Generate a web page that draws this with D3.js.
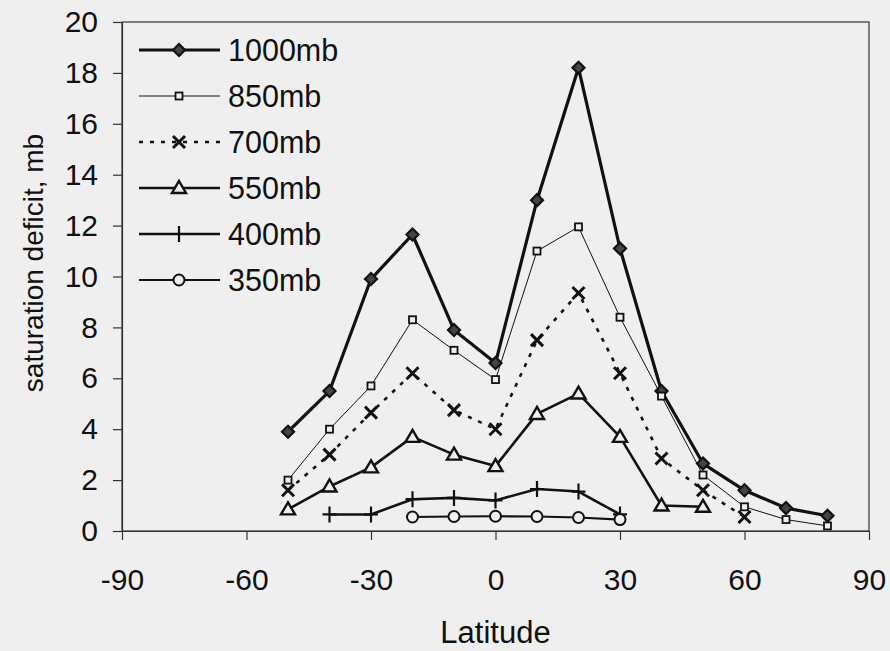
<!DOCTYPE html>
<html><head><meta charset="utf-8">
<script src="https://cdn.jsdelivr.net/npm/d3@7"></script>
<style>
html,body{margin:0;padding:0;background:#efefef;}
svg{display:block;font-family:"Liberation Sans",Arial,sans-serif;}
</style></head>
<body>
<svg id="c" width="890" height="651"></svg>
<script>
const lat = [-50,-40,-30,-20,-10,0,10,20,30,40,50,60,70,80];
const s1000 = [3.9,5.5,9.9,11.65,7.9,6.6,13.0,18.2,11.1,5.5,2.65,1.6,0.9,0.6];
const s850  = [2.0,4.0,5.7,8.3,7.1,5.95,11.0,11.95,8.4,5.3,2.2,0.95,0.45,0.2];
const s700  = [1.6,3.0,4.65,6.2,4.75,4.0,7.5,9.35,6.2,2.85,1.6,0.55,null,null];
const s550  = [0.85,1.75,2.5,3.7,3.0,2.55,4.6,5.4,3.7,1.0,0.95,null,null,null];
const s400  = [null,0.65,0.65,1.25,1.3,1.2,1.65,1.55,0.65,null,null,null,null,null];
const s350  = [null,null,null,0.55,0.57,0.58,0.57,0.53,0.45,null,null,null,null,null];
const xTicks = [-90,-60,-30,0,30,60,90];
const yTicks = [0,2,4,6,8,10,12,14,16,18,20];

const series = [
  {name:"1000mb", values:s1000, marker:"diamond", width:3.2, dash:null},
  {name:"850mb",  values:s850,  marker:"square",  width:1,   dash:null},
  {name:"700mb",  values:s700,  marker:"x",       width:2.6, dash:"4,7"},
  {name:"550mb",  values:s550,  marker:"triangle",width:2.6, dash:null},
  {name:"400mb",  values:s400,  marker:"plus",    width:2.6, dash:null},
  {name:"350mb",  values:s350,  marker:"circle",  width:2.2, dash:null}
];

const svg = d3.select("#c");
const L=122, R=869, T=22, B=531;
const x = d3.scaleLinear().domain([-90,90]).range([L,R]);
const y = d3.scaleLinear().domain([0,20]).range([B,T]);
const ink = "#111";

// frame
svg.append("rect").attr("x",L).attr("y",T).attr("width",R-L).attr("height",B-T)
  .attr("fill","none").attr("stroke","#333").attr("stroke-width",1.2);

const fs = 30;
const gx = svg.append("g").attr("transform",`translate(0,${y(0)})`)
  .call(d3.axisBottom(x).tickValues(xTicks).tickFormat(d=>String(d)).tickSize(9).tickSizeOuter(0));
const gy = svg.append("g").attr("transform",`translate(${L},0)`)
  .call(d3.axisLeft(y).tickValues(yTicks).tickFormat(d=>String(d)).tickSize(9).tickPadding(15).tickSizeOuter(0));
[gx,gy].forEach(g=>{
  g.select(".domain").attr("stroke","#333").attr("stroke-width",1.2);
  g.selectAll(".tick line").attr("stroke","#333").attr("stroke-width",1.2);
  g.selectAll(".tick text").attr("fill",ink).attr("font-size",fs)
   .attr("font-family","Liberation Sans, Arial, sans-serif");
});
gx.selectAll(".tick text").attr("y",59).attr("dy","0");

svg.append("text").attr("x",(L+R)/2).attr("y",643).attr("text-anchor","middle")
  .attr("font-size",31).attr("fill",ink).text("Latitude");
svg.append("text").attr("transform",`translate(43,263) rotate(-90)`)
  .attr("text-anchor","middle").attr("font-size",28).attr("fill",ink).text("saturation deficit, mb");

function drawMarker(g, type, cx, cy){
  const m = g.append("g").attr("transform",`translate(${cx},${cy})`);
  if(type==="diamond"){
    m.append("path").attr("d","M0,-6L6,0L0,6L-6,0Z").attr("fill","#444").attr("stroke",ink).attr("stroke-width",2.2);
  } else if(type==="square"){
    m.append("rect").attr("x",-3.5).attr("y",-3.5).attr("width",7).attr("height",7)
      .attr("fill","#efefef").attr("stroke",ink).attr("stroke-width",1.8);
  } else if(type==="x"){
    m.append("path").attr("d","M-6,-6L6,6M6,-6L-6,6").attr("stroke",ink).attr("stroke-width",3).attr("fill","none");
  } else if(type==="triangle"){
    m.append("path").attr("d","M0,-7L7,5L-7,5Z").attr("fill","#efefef").attr("stroke",ink).attr("stroke-width",2.4);
  } else if(type==="plus"){
    m.append("path").attr("d","M0,-8L0,8M-7,0L7,0").attr("stroke",ink).attr("stroke-width",2.2).attr("fill","none");
  } else if(type==="circle"){
    m.append("circle").attr("r",5.5).attr("fill","#efefef").attr("stroke",ink).attr("stroke-width",2);
  }
}

const line = d3.line().defined(d=>d.v!==null).x(d=>x(d.lat)).y(d=>y(d.v));
series.forEach(s=>{
  const data = lat.map((l,i)=>({lat:l,v:s.values[i]}));
  const g = svg.append("g");
  g.append("path").datum(data).attr("d",line).attr("fill","none").attr("stroke",ink)
    .attr("stroke-width",s.width).attr("stroke-dasharray",s.dash).attr("stroke-linejoin","round");
  data.filter(d=>d.v!==null).forEach(d=>drawMarker(g,s.marker,x(d.lat),y(d.v)));
});

// legend
const leg = svg.append("g");
series.forEach((s,i)=>{
  const ly = 50 + i*46;
  leg.append("line").attr("x1",139).attr("x2",220).attr("y1",ly).attr("y2",ly)
    .attr("stroke",ink).attr("stroke-width",s.width).attr("stroke-dasharray",s.dash);
  drawMarker(leg,s.marker,179,ly);
  leg.append("text").attr("x",228).attr("y",ly).attr("dy","0.36em")
    .attr("font-size",30.5).attr("fill",ink).text(s.name);
});
</script>
</body></html>
